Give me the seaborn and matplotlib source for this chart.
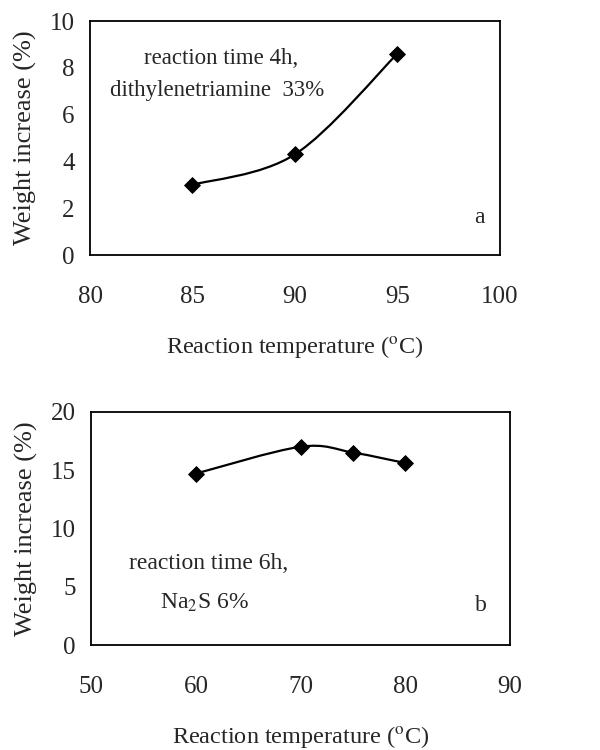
import numpy as np
import pandas as pd
import seaborn as sns
import matplotlib
matplotlib.use("Agg")
import matplotlib.pyplot as plt
from matplotlib.path import Path
from matplotlib.patches import PathPatch

# Data
temp_a = [85, 90, 95]
weight_a = [3.0, 4.3, 8.6]
temp_b = [60, 70, 75, 80]
weight_b = [14.7, 17.0, 16.5, 15.6]

xticks_a = [80, 85, 90, 95, 100]
yticks_a = [0, 2, 4, 6, 8, 10]
xticks_b = [50, 60, 70, 80, 90]
yticks_b = [0, 5, 10, 15, 20]

sns.set_theme(style="white")
plt.rcParams['font.family'] = ['Liberation Serif', 'DejaVu Serif']
plt.rcParams['mathtext.fontset'] = 'stix'

fig = plt.figure(figsize=(6, 7.5), dpi=100)
ax1 = fig.add_axes([0.150, 0.660, 0.683, 0.312])
ax2 = fig.add_axes([0.152, 0.140, 0.698, 0.311])


def smooth_path(x, y):
    # Bezier smoothing (spreadsheet-style) through the data points
    pts = np.column_stack([x, y]).astype(float)
    n = len(pts)
    verts = [pts[0]]
    codes = [Path.MOVETO]
    for i in range(n - 1):
        p0 = pts[i - 1] if i > 0 else pts[i]
        p1 = pts[i]
        p2 = pts[i + 1]
        p3 = pts[i + 2] if i + 2 < n else pts[i + 1]
        c1 = p1 + (p2 - p0) / 6.0
        c2 = p2 - (p3 - p1) / 6.0
        verts += [c1, c2, p2]
        codes += [Path.CURVE4] * 3
    return Path(verts, codes)


def draw(ax, x, y, xlim, ylim, xt, yt):
    ax.add_patch(PathPatch(smooth_path(x, y), facecolor='none',
                           edgecolor='black', lw=1.6, zorder=2))
    df = pd.DataFrame({'t': x, 'w': y})
    sns.scatterplot(data=df, x='t', y='w', ax=ax, marker='D', s=65,
                    color='black', edgecolor='black', zorder=3, legend=False)
    ax.set_xlim(*xlim)
    ax.set_ylim(*ylim)
    ax.set_xticks(xt)
    ax.set_yticks(yt)
    ax.set_xticklabels([str(v) for v in xt], fontsize=18)
    ax.set_yticklabels([str(v) for v in yt], fontsize=18)
    ax.tick_params(axis='x', direction='in', length=4, width=0.6, pad=22)
    ax.tick_params(axis='y', direction='in', length=3, width=0.6, pad=11)
    for s in ax.spines.values():
        s.set_color('black')
        s.set_linewidth(1.3)
    ax.set_xlabel('Reaction temperature ($^{\\mathrm{o}}$C)', fontsize=17.5, labelpad=19)
    ax.set_ylabel('Weight increase (%)', fontsize=19, labelpad=9)


draw(ax1, temp_a, weight_a, (80, 100), (0, 10), xticks_a, yticks_a)
draw(ax2, temp_b, weight_b, (50, 90), (0, 20), xticks_b, yticks_b)

ax1.text(0.32, 0.84, 'reaction time 4h,', transform=ax1.transAxes,
         fontsize=16.5, ha='center', va='center')
ax1.text(0.31, 0.705, 'dithylenetriamine  33%', transform=ax1.transAxes,
         fontsize=16.5, ha='center', va='center')
ax1.text(0.95, 0.16, 'a', transform=ax1.transAxes, fontsize=17,
         ha='center', va='center')

ax2.text(0.09, 0.35, 'reaction time 6h,', transform=ax2.transAxes,
         fontsize=17, ha='left', va='center')
ax2.text(0.165, 0.18, 'Na$_2$S 6%', transform=ax2.transAxes,
         fontsize=17, ha='left', va='center')
ax2.text(0.93, 0.17, 'b', transform=ax2.transAxes, fontsize=17,
         ha='center', va='center')

fig.savefig('out.png', dpi=100, facecolor='white')
